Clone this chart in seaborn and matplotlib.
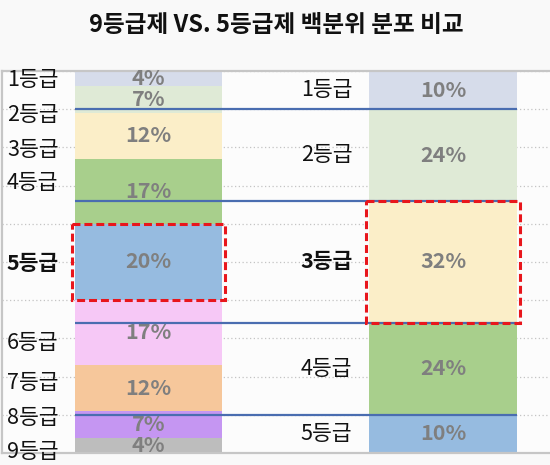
import numpy as np
import pandas as pd
import seaborn as sns
import matplotlib
matplotlib.use("Agg")
import matplotlib.pyplot as plt
from matplotlib.patches import Rectangle
from matplotlib.transforms import blended_transform_factory

# data
title = "9등급제 VS. 5등급제 백분위 분포 비교"
grades9 = ["1등급", "2등급", "3등급", "4등급", "5등급", "6등급", "7등급", "8등급", "9등급"]
pct9 = [4, 7, 12, 17, 20, 17, 12, 7, 4]
grades5 = ["1등급", "2등급", "3등급", "4등급", "5등급"]
pct5 = [10, 24, 32, 24, 10]
grade_colors = {
    "1등급": "#d6dcea", "2등급": "#dfead6", "3등급": "#fbeec8", "4등급": "#a8cf8c",
    "5등급": "#96bbe0", "6등급": "#f6c8f6", "7등급": "#f6c79b", "8등급": "#c596f2",
    "9등급": "#bdbdbd",
}
highlight9 = "5등급"
highlight5 = "3등급"

# layout: where the left-side grade names sit (percent from top)
left_label_y = [2.4, 11.5, 20.7, 29.3, 50.3, 71.2, 81.7, 90.8, 99.7]

sns.set_theme(style="white")
plt.rcParams["font.family"] = ["Noto Sans CJK KR", "DejaVu Sans"]

df = pd.concat([
    pd.DataFrame({"system": 0, "grade": grades9, "pct": pct9}),
    pd.DataFrame({"system": 1, "grade": grades5, "pct": pct5}),
], ignore_index=True)

fig = plt.figure(figsize=(5.5, 4.65), dpi=100, facecolor="#f9f9f9")
ax = fig.add_axes([2 / 550, 12 / 465, 548 / 550, 382 / 465])
ax.set_facecolor("#fcfcfc")

bar_w = 0.5
sns.histplot(data=df, x="system", hue="grade", weights="pct", multiple="stack",
             discrete=True, shrink=bar_w, hue_order=grades9[::-1],
             palette=grade_colors, linewidth=0, alpha=1, legend=False, ax=ax)

ax.set_xlim(-0.497, 1.363)
ax.set_ylim(100, 0)
ax.set_yticks(np.arange(0, 101, 10))
ax.yaxis.grid(True, linestyle=(0, (1, 2)), color="#c4c4c4", lw=0.9)
ax.set_axisbelow(True)
ax.tick_params(left=False, labelleft=False, bottom=False, labelbottom=False)
ax.set_xlabel("")
ax.set_ylabel("")
for side in ["top", "bottom", "left"]:
    ax.spines[side].set_visible(True)
    ax.spines[side].set_color("#c6c6c6")
    ax.spines[side].set_linewidth(1.6)
ax.spines["right"].set_visible(False)

cum9 = np.cumsum(pct9)
cum5 = np.cumsum(pct5)
mid9 = cum9 - np.array(pct9) / 2
mid5 = cum5 - np.array(pct5) / 2

# percent labels
for m, p in zip(mid9, pct9):
    ax.text(0, m, f"{p}%", ha="center", va="center", fontsize=15.5,
            fontweight="bold", color="#7f7f7f", zorder=3)
for m, p in zip(mid5, pct5):
    ax.text(1, m, f"{p}%", ha="center", va="center", fontsize=15.5,
            fontweight="bold", color="#7f7f7f", zorder=3)

# grade names
trans = blended_transform_factory(ax.transAxes, ax.transData)
for g, y in zip(grades9, left_label_y):
    ax.text(0.009, y, g, transform=trans, ha="left", va="center", fontsize=15.5,
            fontweight="bold" if g == highlight9 else "normal", color="#111111")
for g, m in zip(grades5, mid5):
    ax.text(1 - bar_w / 2 - 0.058, m, g, ha="right", va="center", fontsize=15.5,
            fontweight="bold" if g == highlight5 else "normal", color="#111111")

# 5-grade boundaries carried across both bars
ax.hlines(cum5[:-1], -bar_w / 2, 1 + bar_w / 2, color="#4a6db0", lw=1.6, zorder=4)

# dashed highlight boxes
i9 = grades9.index(highlight9)
i5 = grades5.index(highlight5)
boxes = [
    (0, cum9[i9] - pct9[i9], pct9[i9]),
    (1, cum5[i5] - pct5[i5], pct5[i5]),
]
for x, top, h in boxes:
    ax.add_patch(Rectangle((x - bar_w / 2 - 0.01, top), bar_w + 0.02, h, fill=False,
                           edgecolor="#e8161c", lw=2.2, linestyle=(0, (2.6, 1.3)),
                           zorder=5))

fig.text(0.503, 1 - 25 / 465, title, ha="center", va="center", fontsize=17,
         fontweight="bold", color="#111111")

fig.savefig("out.png", dpi=100, facecolor=fig.get_facecolor())
